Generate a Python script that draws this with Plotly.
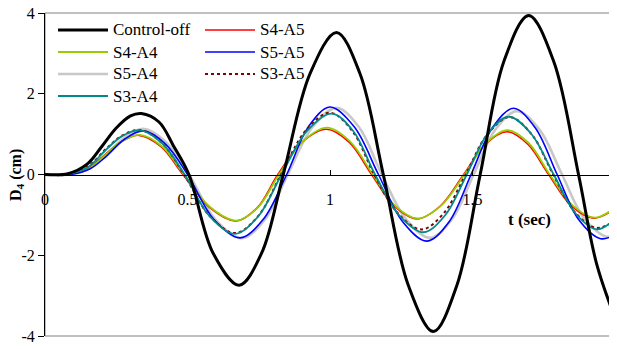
import plotly.graph_objects as go

# ---- data ----
t_ctrl = [0, 0.08, 0.15, 0.2, 0.25, 0.3, 0.338, 0.4, 0.45, 0.505, 0.59, 0.681, 0.76, 0.836,
          0.93, 1.023, 1.105, 1.187, 1.275, 1.363, 1.445, 1.527, 1.61, 1.697, 1.785, 1.872, 1.935, 2.0]
d_ctrl = [0, 0.02, 0.27, 0.7, 1.15, 1.45, 1.51, 1.3, 0.72, 0, -1.95, -2.74, -1.95, 0,
          2.5, 3.52, 2.5, 0, -2.75, -3.89, -2.75, 0, 2.8, 3.94, 2.8, 0, -2.2, -3.55]

t_s4a5 = [0, 0.08, 0.15, 0.215, 0.27, 0.33, 0.407, 0.484, 0.578, 0.672, 0.745, 0.817, 0.902, 0.988,
          1.067, 1.146, 1.225, 1.305, 1.387, 1.469, 1.545, 1.621, 1.694, 1.767, 1.846, 1.925, 2.0]
d_s4a5 = [0, 0, 0.15, 0.52, 0.82, 0.97, 0.69, 0, -0.82, -1.15, -0.82, 0, 0.8, 1.12,
          0.8, 0, -0.78, -1.1, -0.78, 0, 0.75, 1.06, 0.75, 0, -0.77, -1.08, -0.85]

t_s4a4 = [0, 0.08, 0.15, 0.215, 0.27, 0.332, 0.41, 0.488, 0.58, 0.674, 0.748, 0.821, 0.905, 0.99,
          1.07, 1.15, 1.228, 1.307, 1.39, 1.472, 1.548, 1.623, 1.697, 1.771, 1.85, 1.928, 2.0]
d_s4a4 = [0, 0, 0.13, 0.5, 0.82, 0.98, 0.7, 0, -0.81, -1.14, -0.81, 0, 0.82, 1.16,
          0.82, 0, -0.77, -1.09, -0.77, 0, 0.78, 1.1, 0.78, 0, -0.76, -1.07, -0.82]

t_s5a4 = [0, 0.085, 0.155, 0.215, 0.28, 0.345, 0.425, 0.505, 0.598, 0.69, 0.771, 0.852, 0.938, 1.023,
          1.102, 1.182, 1.267, 1.351, 1.428, 1.504, 1.58, 1.656, 1.735, 1.814, 1.892, 1.97, 2.0]
d_s5a4 = [0, 0, 0.14, 0.5, 0.92, 1.13, 0.8, 0, -1.12, -1.58, -1.12, 0, 1.17, 1.65,
          1.17, 0, -1.11, -1.57, -1.11, 0, 1.11, 1.57, 1.11, 0, -1.09, -1.54, -1.5]

t_s5a5 = [0, 0.09, 0.16, 0.215, 0.28, 0.345, 0.422, 0.5, 0.592, 0.684, 0.766, 0.848, 0.924, 1.0,
          1.085, 1.17, 1.255, 1.34, 1.418, 1.495, 1.57, 1.644, 1.72, 1.797, 1.873, 1.95, 2.0]
d_s5a5 = [0, 0, 0.15, 0.45, 0.88, 1.08, 0.76, 0, -1.11, -1.57, -1.11, 0, 1.18, 1.67,
          1.18, 0, -1.17, -1.65, -1.17, 0, 1.16, 1.64, 1.16, 0, -1.12, -1.59, -1.49]

t_s3a5 = [0, 0.075, 0.15, 0.215, 0.27, 0.335, 0.41, 0.488, 0.578, 0.668, 0.748, 0.828, 0.914, 1.0,
          1.078, 1.155, 1.238, 1.322, 1.399, 1.476, 1.553, 1.63, 1.707, 1.783, 1.859, 1.935, 2.0]
d_s3a5 = [0, 0, 0.2, 0.64, 0.96, 1.1, 0.78, 0, -1.03, -1.45, -1.03, 0, 1.08, 1.53,
          1.08, 0, -0.96, -1.36, -0.96, 0, 1.0, 1.42, 1.0, 0, -0.93, -1.32, -1.15]

t_s3a4 = [0, 0.075, 0.15, 0.215, 0.27, 0.332, 0.41, 0.49, 0.578, 0.666, 0.748, 0.83, 0.918, 1.006,
          1.082, 1.158, 1.243, 1.328, 1.404, 1.48, 1.553, 1.627, 1.706, 1.785, 1.861, 1.937, 2.0]
d_s3a4 = [0, 0, 0.18, 0.62, 0.95, 1.1, 0.78, 0, -1.04, -1.47, -1.04, 0, 1.07, 1.51,
          1.07, 0, -1.01, -1.43, -1.01, 0, 1.01, 1.43, 1.01, 0, -0.96, -1.36, -1.1]

x_ticks = [0, 0.5, 1, 1.5, 2]
x_ticktext = ["0", "0.5", "1", "1.5", "2"]
y_ticks = [-4, -2, 0, 2, 4]
y_ticktext = ["-4", "-2", "0", "2", "4"]

SERIF = "Liberation Serif"

series = [
    # name, t, d, color, width, dash
    ("S5-A4", t_s5a4, d_s5a4, "#C8C8C8", 2.6, "solid"),
    ("S4-A5", t_s4a5, d_s4a5, "#FF0000", 1.6, "solid"),
    ("S4-A4", t_s4a4, d_s4a4, "#99CC00", 1.8, "solid"),
    ("S5-A5", t_s5a5, d_s5a5, "#0000FF", 1.6, "solid"),
    ("S3-A5", t_s3a5, d_s3a5, "#800000", 2.0, "dot"),
    ("S3-A4", t_s3a4, d_s3a4, "#008B8B", 1.8, "solid"),
    ("Control-off", t_ctrl, d_ctrl, "#000000", 3.0, "solid"),
]
style = {s[0]: s for s in series}

# legend layout: (column, row) for each series name
legend_cells = {
    "Control-off": (0, 0), "S4-A4": (0, 1), "S5-A4": (0, 2), "S3-A4": (0, 3),
    "S4-A5": (1, 0), "S5-A5": (1, 1), "S3-A5": (1, 2),
}

fig = go.Figure()
for name, tt, dd, col, w, dash in series:
    fig.add_trace(go.Scatter(
        x=tt, y=dd, mode="lines", name=name, showlegend=False,
        line=dict(color=col, width=w, dash=dash, shape="spline", smoothing=1.0),
    ))

# the page body adds an 8px offset; figure is sized to fill the rest of the window
OFF = 8
W, H = 617 - OFF, 349 - OFF
# plot area in screen pixels: x 45..615, y 13..336
ml, mr, mt, mb = 45 - OFF, W - (615 - OFF), 13 - OFF, H - (336 - OFF)
pw, ph = W - ml - mr, H - mt - mb

def px_x(p):  # screen pixel -> paper
    return (p - OFF - ml) / pw

def px_y(p):
    return 1 - (p - OFF - mt) / ph

shapes = [dict(type="rect", xref="paper", yref="paper", x0=0, x1=1, y0=0, y1=1,
               line=dict(color="#808080", width=1), layer="below")]
annotations = [
    dict(text="<b>D<sub>4</sub> (cm)</b>", xref="paper", yref="paper",
         x=px_x(16), y=px_y(175), textangle=-90, showarrow=False,
         xanchor="center", yanchor="middle", borderpad=0,
         font=dict(family=SERIF, size=16, color="black")),
    dict(text="<b>t (sec)</b>", xref="paper", yref="paper",
         x=px_x(529), y=px_y(219), showarrow=False,
         xanchor="center", yanchor="middle",
         font=dict(family=SERIF, size=17, color="black")),
]

col_x = [58, 205]
row_y = [30, 52, 74, 96]
for name, (c, r) in legend_cells.items():
    _, _, _, col, w, dash = style[name]
    x0 = col_x[c]
    yy = px_y(row_y[r])
    shapes.append(dict(type="line", xref="paper", yref="paper",
                       x0=px_x(x0), x1=px_x(x0 + 50), y0=yy, y1=yy,
                       line=dict(color=col, width=w, dash=dash)))
    annotations.append(dict(text=name, xref="paper", yref="paper",
                            x=px_x(x0 + 53), y=yy, showarrow=False,
                            xanchor="left", yanchor="middle",
                            font=dict(family=SERIF, size=17, color="black")))

fig.update_layout(
    width=W, height=H,
    margin=dict(l=ml, r=mr, t=mt, b=mb, autoexpand=False),
    paper_bgcolor="white", plot_bgcolor="white",
    font=dict(family=SERIF, size=16, color="black"),
    showlegend=False,
    xaxis=dict(
        range=[0, 2], tickvals=x_ticks, ticktext=x_ticktext,
        anchor="free", position=0.5, automargin=False,
        showline=True, linecolor="black", linewidth=1,
        ticks="inside", ticklen=5, tickcolor="black",
        showgrid=False, zeroline=False,
        ticklabelstandoff=10, ticklabeloverflow="allow",
        tickfont=dict(family=SERIF, size=16, color="black"),
    ),
    yaxis=dict(
        range=[-4, 4], tickvals=y_ticks, ticktext=y_ticktext, automargin=False,
        showline=True, linecolor="black", linewidth=1,
        ticks="outside", ticklen=6, tickcolor="black",
        showgrid=False, zeroline=False, ticklabeloverflow="allow",
        tickfont=dict(family=SERIF, size=16, color="black"),
    ),
    shapes=shapes,
    annotations=annotations,
)

fig.write_html("out.html")
